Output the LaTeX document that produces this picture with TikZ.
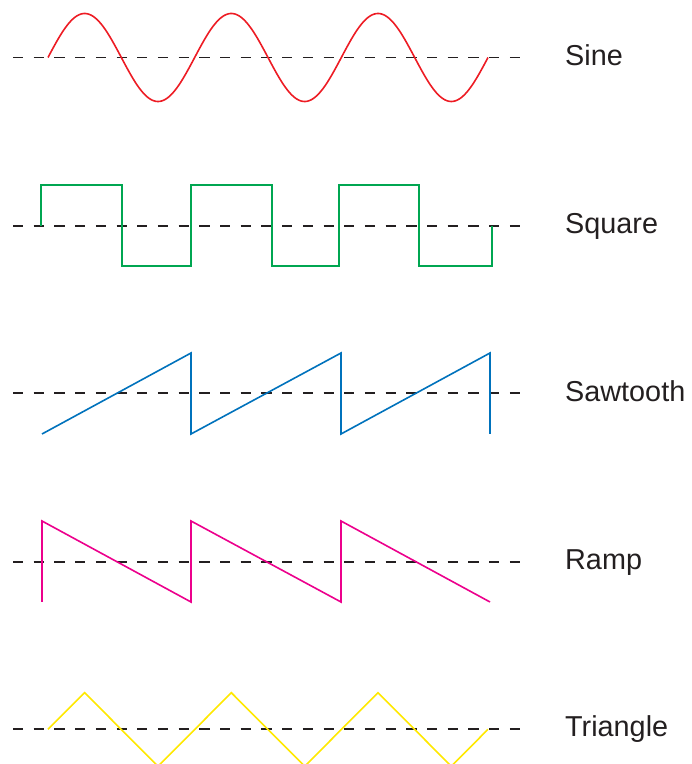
\documentclass[tikz,border=0pt]{standalone}
\usepackage{fontspec}
\setmainfont{Liberation Sans}
\definecolor{wred}{HTML}{ED1C24}
\definecolor{wgreen}{HTML}{00A651}
\definecolor{wblue}{HTML}{0072BC}
\definecolor{wmag}{HTML}{EC008C}
\definecolor{wyel}{HTML}{FFE800}
\definecolor{wdark}{HTML}{231F20}
\tikzset{
  axisline/.style={draw=wdark, line width=1.7pt, dash pattern=on 10.2pt off 10.5pt},
  wave/.style={line width=1.6pt, line join=miter},
  wlabel/.style={anchor=base west, inner sep=0pt, text=wdark, font=\fontsize{28.8}{31}\selectfont}
}
\begin{document}
\begin{tikzpicture}[x=1pt,y=1pt]
\useasboundingbox (0,0) rectangle (692,764);
% axis end points
\foreach \n/\y in {sine/706.5, square/538.3, saw/371, ramp/202.3, tri/34.7}{
  \coordinate (\n L) at (13,\y);
  \coordinate (\n R) at (520,\y);
  \draw[axisline] (\n L) -- (\n R);
}
% Sine
\draw[wave, wred] plot[domain=0:440, samples=300, smooth] ({48+\x},{706.5+44*sin(2.45454*\x)});
% Square
\draw[wave, wgreen] (41,538.3) -- (41,579) -- (122,579) -- (122,498) -- (191,498) -- (191,579)
  -- (272,579) -- (272,498) -- (339,498) -- (339,579) -- (419,579) -- (419,498) -- (492,498) -- (492,538.3);
% Sawtooth
\draw[wave, wblue] (42,330) -- (191,411) -- (191,330) -- (341,411) -- (341,330) -- (490,411) -- (490,330);
% Ramp
\draw[wave, wmag] (42,162) -- (42,243) -- (191,162) -- (191,243) -- (341,162) -- (341,243) -- (490,162);
% Triangle
\draw[wave, wyel] (48,34.7) -- (84.67,71.3) -- (158,-2.3) -- (231.33,71.3) -- (304.67,-2.3)
  -- (378,71.3) -- (451.33,-2.3) -- (488,34.7);
% Labels
\node[wlabel] (lsine) at (565,698.5) {Sine};
\node[wlabel] (lsquare) at (565,530.3) {Square};
\node[wlabel] (lsaw) at (565,362.5) {Sawtooth};
\node[wlabel] (lramp) at (565,194) {Ramp};
\node[wlabel] (ltri) at (565,27.3) {Triangle};
\end{tikzpicture}
\end{document}
